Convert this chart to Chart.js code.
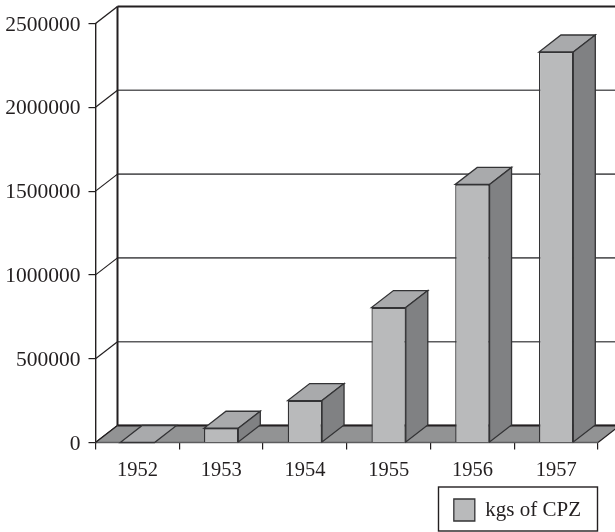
<!DOCTYPE html>
<html>
<head>
<meta charset="utf-8">
<title>kgs of CPZ</title>
<script src="https://cdn.jsdelivr.net/npm/chart.js@4"></script>
<style>
  html, body { margin: 0; padding: 0; background: #fff; }
  canvas { display: block; }
</style>
</head>
<body>
<canvas id="cpzChart" width="615" height="532"></canvas>
<script>
const years = ['1952', '1953', '1954', '1955', '1956', '1957'];
const kgsOfCpz = [0, 85000, 250000, 805000, 1540000, 2330000];
const yMax = 2500000;
const yStep = 500000;

// depth of the fake 3d box
const depthX = 22;
const depthY = 17;

const inkColor = '#231f20';
const edgeColor = '#333335';
const gridColor = '#5c5c5e';
const floorColor = '#929394';
const frontColor = '#b9babb';
const topColor = '#a9aaac';
const sideColor = '#808183';

function poly(ctx, pts, fill, stroke, width) {
  ctx.beginPath();
  ctx.moveTo(pts[0][0], pts[0][1]);
  for (let i = 1; i < pts.length; i++) ctx.lineTo(pts[i][0], pts[i][1]);
  ctx.closePath();
  if (fill) { ctx.fillStyle = fill; ctx.fill(); }
  if (stroke) { ctx.strokeStyle = stroke; ctx.lineWidth = width; ctx.lineJoin = 'miter'; ctx.stroke(); }
}

function line(ctx, x1, y1, x2, y2, color, width) {
  ctx.beginPath();
  ctx.moveTo(x1, y1);
  ctx.lineTo(x2, y2);
  ctx.strokeStyle = color;
  ctx.lineWidth = width;
  ctx.stroke();
}

// back wall, floor and the top and side faces of the bars
const box3d = {
  id: 'box3d',
  afterLayout(chart) {
    // pull the legend entry in from the right edge of its frame
    chart.legend.right -= 6;
  },
  beforeDatasetsDraw(chart) {
    const ctx = chart.ctx;
    const x = chart.scales.x;
    const y = chart.scales.y;
    const left = x.left;
    const right = x.right;
    const wallLeft = left + depthX;
    const wallRight = right + depthX;
    ctx.save();

    // grid lines run along the wall and step down to the front axis
    y.ticks.forEach(function (t) {
      const py = y.getPixelForValue(t.value);
      if (t.value === yMax) return;
      line(ctx, wallLeft, py - depthY, wallRight, py - depthY, gridColor, 1.6);
      line(ctx, left, py, wallLeft, py - depthY, inkColor, 1.2);
    });

    const topY = y.getPixelForValue(yMax);
    const baseY = y.getPixelForValue(0);
    line(ctx, left, topY, wallLeft, topY - depthY, inkColor, 1.4);
    line(ctx, wallLeft, topY - depthY, wallRight, topY - depthY, inkColor, 2);
    line(ctx, wallLeft, topY - depthY, wallLeft, baseY - depthY, inkColor, 2);

    poly(ctx, [[left, baseY], [right, baseY], [wallRight, baseY - depthY], [wallLeft, baseY - depthY]], floorColor);
    line(ctx, wallLeft, baseY - depthY, wallRight, baseY - depthY, inkColor, 2);
    line(ctx, left, baseY, right, baseY, gridColor, 1.4);
    line(ctx, left, baseY, wallLeft, baseY - depthY, inkColor, 1.2);
    line(ctx, right, baseY, wallRight, baseY - depthY, inkColor, 1.2);

    chart.getDatasetMeta(0).data.forEach(function (bar) {
      const p = bar.getProps(['x', 'y', 'base', 'width'], true);
      const l = p.x - p.width / 2;
      const r = p.x + p.width / 2;
      poly(ctx, [[l, p.y], [r, p.y], [r + depthX, p.y - depthY], [l + depthX, p.y - depthY]], topColor, edgeColor, 1.3);
      if (p.base - p.y > 0) {
        poly(ctx, [[r, p.y], [r + depthX, p.y - depthY], [r + depthX, p.base - depthY], [r, p.base]], sideColor, edgeColor, 1.3);
      }
    });
    ctx.restore();
  },
  afterDraw(chart) {
    // frame round the legend
    const ctx = chart.ctx;
    ctx.save();
    ctx.strokeStyle = inkColor;
    ctx.lineWidth = 1.4;
    ctx.strokeRect(438.5, 487, 159, 44);
    ctx.restore();
  }
};

new Chart(document.getElementById('cpzChart'), {
  type: 'bar',
  plugins: [box3d],
  data: {
    labels: years,
    datasets: [{
      label: 'kgs of CPZ',
      data: kgsOfCpz,
      backgroundColor: frontColor,
      borderColor: edgeColor,
      borderWidth: 1.3,
      barPercentage: 0.41,
      categoryPercentage: 1
    }]
  },
  options: {
    responsive: false,
    animation: false,
    layout: { padding: { top: 23.5, right: 17, bottom: 1, left: 0 } },
    plugins: {
      tooltip: { enabled: false },
      legend: {
        position: 'bottom',
        align: 'end',
        labels: {
          boxWidth: 21,
          boxHeight: 22,
          padding: 11,
          color: inkColor,
          font: { family: '"Liberation Serif"', size: 21 }
        }
      }
    },
    scales: {
      x: {
        afterFit(scale) { scale.height = 45.5; },
        border: { display: false },
        grid: { drawOnChartArea: false, drawTicks: true, tickLength: 7, color: inkColor, lineWidth: 1.2 },
        ticks: { color: inkColor, padding: 9, maxRotation: 0, font: { family: '"Liberation Serif"', size: 20.5 } }
      },
      y: {
        min: 0,
        max: yMax,
        afterFit(scale) { scale.width = 95.5; },
        border: { display: true, color: inkColor, width: 1.4 },
        grid: { drawOnChartArea: false, drawTicks: true, tickLength: 7, color: inkColor, lineWidth: 1.2 },
        ticks: {
          stepSize: yStep,
          color: inkColor,
          padding: 8,
          labelOffset: 1.5,
          font: { family: '"Liberation Serif"', size: 21.5 },
          callback: function (value) { return String(value); }
        }
      }
    }
  }
});
</script>
</body>
</html>
